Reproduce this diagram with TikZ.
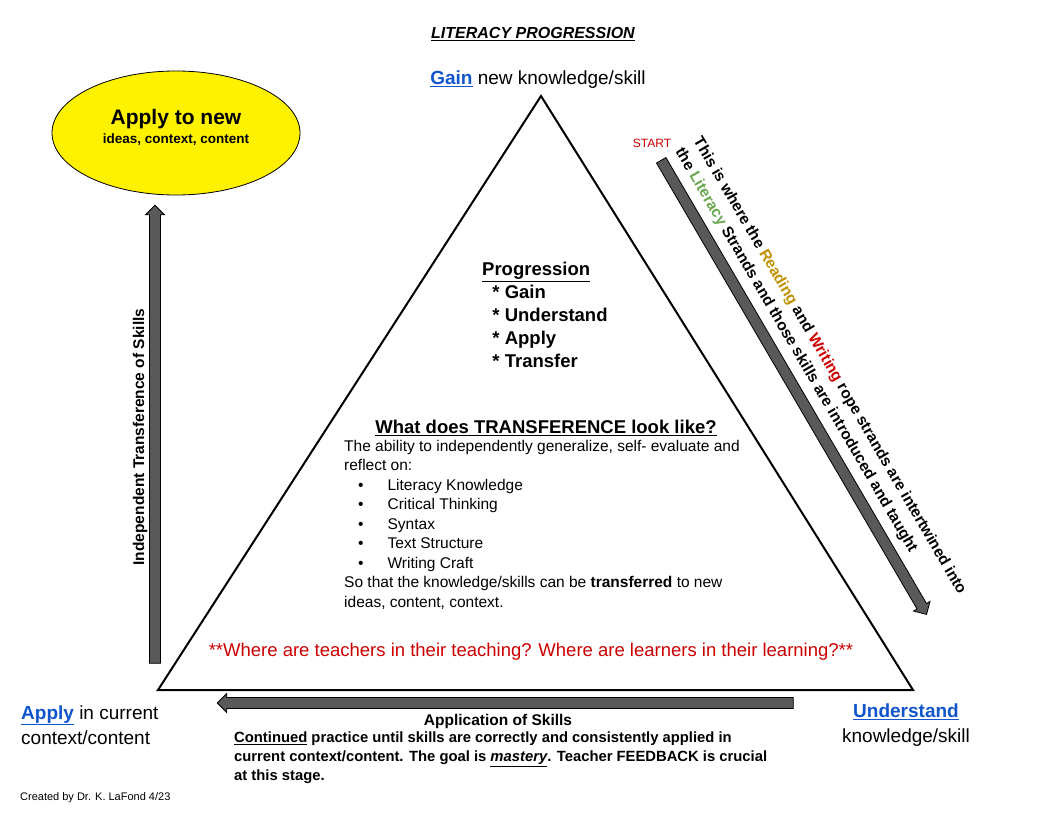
\documentclass[tikz,border=0pt]{standalone}
\usepackage{fontspec}
\setmainfont{Liberation Sans}
\usetikzlibrary{shapes.arrows,shapes.geometric}
\definecolor{gblue}{HTML}{1155CC}
\definecolor{gred}{HTML}{CC0000}
\definecolor{ggold}{HTML}{BF9000}
\definecolor{ggreen}{HTML}{6AA84F}
\definecolor{agray}{HTML}{595959}
\tikzset{blockarrow/.style={single arrow, draw=black, fill=agray, line width=0.8pt, inner sep=5pt, minimum width=19pt, single arrow head extend=4pt, single arrow tip angle=90},
 lbl/.style={inner sep=0pt, font=\fontsize{15}{18}\selectfont}}
\begin{document}
\begin{tikzpicture}[x=1pt,y=-1pt]
\useasboundingbox (0,0) rectangle (1056,816);
\node[lbl,font=\bfseries\itshape\fontsize{16}{19}\selectfont] (title) at (533,34) {\underline{LITERACY PROGRESSION}};
\draw[line width=2pt] (541,96) coordinate (top) -- (158,690) coordinate (bl) -- (913,690) coordinate (br) -- cycle;
\node[lbl,font=\fontsize{19}{22}\selectfont] (gain) at (538,80) {\textcolor{gblue}{\bfseries\underline{Gain}} new knowledge/skill};
\node[lbl,font=\fontsize{19}{25}\selectfont,align=left,anchor=west] (apply) at (21,725) {\textcolor{gblue}{\bfseries\underline{Apply}} in current\\context/content};
\node[lbl,font=\fontsize{19}{25}\selectfont,align=center] (und) at (906,725) {\textcolor{gblue}{\bfseries\underline{Understand}}\\knowledge/skill};
\node[ellipse,draw,fill=yellow,line width=0.8pt,minimum width=248,minimum height=124,align=center,inner sep=0pt] (ell) at (176,133) {};
\node[lbl,align=center] at (176,127) {\bfseries\fontsize{21}{26}\selectfont Apply to new\\[1pt]\bfseries\fontsize{13.5}{16}\selectfont ideas, context, content};
\node[lbl,font=\fontsize{12}{14}\selectfont,text=gred] (start) at (652,143) {START};
\node[blockarrow,rotate=-59.7,minimum height=526] (darr) at (792.5,385) {};
\node[lbl,font=\bfseries\fontsize{15.5}{21}\selectfont,rotate=-59.7,anchor=north west,align=left] (dtext) at (703,135) {This is where the \textcolor{ggold}{Reading} and \textcolor{gred}{Writing} rope strands are intertwined into\\ the \textcolor{ggreen}{Literacy} Strands and those skills are introduced and taught};
\node[blockarrow,rotate=90,minimum height=458] (varr) at (155,437) {};
\node[lbl,font=\bfseries\fontsize{15.5}{18}\selectfont,rotate=90] (vtext) at (140,437) {Independent Transference of Skills};
\node[blockarrow,rotate=180,minimum height=576] (harr) at (508,703) {};
\node[lbl,font=\bfseries\fontsize{15.5}{18}\selectfont] (apsk) at (498,721) {Application of Skills};
\node[lbl,font=\bfseries\fontsize{14.8}{19}\selectfont,align=left,anchor=north west] (cont) at (234,732) {\underline{Continued} practice until skills are correctly and consistently applied in\\current context/content. The goal is \underline{\itshape mastery}. Teacher FEEDBACK is crucial\\at this stage.};
\node[lbl,font=\fontsize{11}{13}\selectfont,anchor=west] (cred) at (20,798) {Created by Dr. K. LaFond 4/23};
\node[lbl,font=\bfseries\fontsize{18.5}{23}\selectfont,align=left,anchor=north west] (prog) at (482,262) {\underline{Progression}\\ \ \ * Gain\\ \ \ * Understand\\ \ \ * Apply\\ \ \ * Transfer};
\node[lbl,font=\bfseries\fontsize{18.5}{21}\selectfont] (what) at (546,428) {\underline{What does TRANSFERENCE look like?}};
\node[lbl,font=\fontsize{15.5}{19.5}\selectfont,align=left,anchor=north west] (body) at (344,440) {The ability to independently generalize, self- evaluate and\\reflect on:\\
\hspace*{14pt}\textbullet\hspace{24pt}Literacy Knowledge\\
\hspace*{14pt}\textbullet\hspace{24pt}Critical Thinking\\
\hspace*{14pt}\textbullet\hspace{24pt}Syntax\\
\hspace*{14pt}\textbullet\hspace{24pt}Text Structure\\
\hspace*{14pt}\textbullet\hspace{24pt}Writing Craft\\
So that the knowledge/skills can be \textbf{transferred} to new\\ideas, content, context.};
\node[lbl,font=\fontsize{18.5}{21}\selectfont,text=gred] (where) at (531,652) {**Where are teachers in their teaching? Where are learners in their learning?**};
\end{tikzpicture}
\end{document}
